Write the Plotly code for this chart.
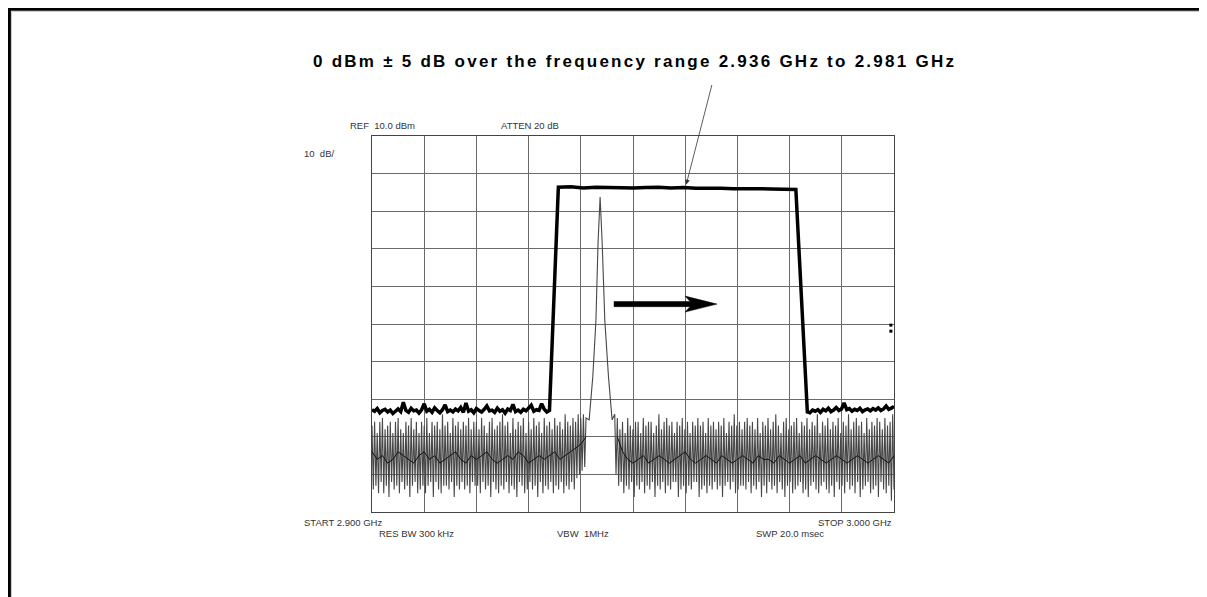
import numpy as np
import plotly.graph_objects as go

# ---------------- data (GHz, dBm) ----------------
# thick trace: swept 2.936-2.981 GHz band, noise floor outside
thick_left_v = [-62.8,-63.2,-62.5,-63.6,-63.0,-62.7,-63.4,-62.9,-63.8,-63.1,
                -62.6,-63.3,-60.8,-63.0,-63.5,-62.4,-63.1,-62.9,-63.7,-62.8,
                -61.2,-63.2,-62.7,-63.5,-62.3,-63.0,-63.6,-62.8,-61.5,-63.3,
                -62.9,-63.4,-62.6,-63.1,-62.2,-63.5,-61.0,-63.2,-62.8,-63.6,
                -62.5,-63.0,-63.4,-62.7,-61.8,-63.1,-62.9,-63.5,-62.4,-63.2,
                -62.8,-63.7,-62.6,-63.0,-61.4,-63.3,-62.9,-63.5,-62.7,-63.1,
                -62.4,-61.6,-63.2,-62.8,-63.0,-61.2,-62.7,-63.4,-63.0]
thick_top_v = [-3.6,-3.5,-3.8,-3.6,-3.7,-3.6,-3.8,-3.7,-3.6,-3.8,
               -3.7,-3.9,-3.8,-3.9,-4.0,-3.9,-4.0,-4.1,-4.1,-4.2]
thick_right_v = [-63.4,-63.6,-62.9,-63.2,-62.8,-63.5,-62.7,-63.1,-62.4,-63.3,
                 -62.9,-62.2,-63.0,-62.6,-61.0,-62.8,-62.5,-63.2,-62.7,-63.0,
                 -62.4,-63.3,-62.8,-62.6,-63.1,-62.5,-62.9,-62.3,-63.0,-62.6,
                 -61.8,-62.7,-62.4,-61.9]
thick_left_span = (2.900, 2.9340)
thick_top_span = (2.9357, 2.9812)
thick_right_span = (2.9834, 3.000)

# thin gray trace: CW signal at 2.9437 GHz over noise
gray_left_v = [
    -67,-84,-66,-83,-69,-85,-66,-82,-65,-85,-68,-83,-67,-86,-66,-82,-69,-84,-66,-83,
    -65,-85,-68,-82,-69,-84,-66,-83,-67,-86,-65,-83,-68,-82,-66,-85,-69,-84,-66,-83,
    -67,-85,-65,-83,-69,-82,-66,-86,-67,-82,-66,-84,-68,-85,-64,-83,-67,-83,-66,-84,
    -69,-82,-65,-86,-67,-83,-66,-84,-68,-82,-66,-84,-67,-83,-65,-85,-68,-82,-66,-83,
    -66,-83,-68,-85,-65,-82,-67,-84,-69,-83,-66,-86,-65,-82,-68,-84,-67,-85,-66,-83,
    -64,-84,-67,-82,-66,-85,-69,-83,-65,-84,-68,-86,-66,-82,-67,-83,-65,-85,-69,-84,
    -66,-82,-68,-84,-65,-83,-67,-86,-66,-82,-69,-85,-65,-83,-67,-84,-66,-82,-68,-85,
    -65,-83,-67,-84,-66,-82,-68,-85,-64,-83,-66,-84,-67,-82,-65,-84,-66,-81,-64,-80,
    -65,-79,-64,-78,-65]
peak_f = [2.9416, 2.9423, 2.9429, 2.9433, 2.9437, 2.9441, 2.9446, 2.9453, 2.9460]
peak_v = [-65.5, -54.0, -39.0, -18.5, -6.2, -18.5, -39.0, -54.0, -65.5]
gray_right_v = [
    -64,-80,-65,-83,-68,-82,-66,-85,-69,-83,-65,-84,-67,-82,-68,-86,-66,-83,-66,-84,
    -69,-82,-65,-85,-67,-83,-66,-84,-66,-82,-69,-86,-67,-83,-64,-84,-68,-82,-66,-85,
    -65,-83,-67,-84,-66,-82,-69,-82,-66,-86,-67,-84,-65,-83,-68,-85,-66,-83,-69,-84,
    -66,-82,-67,-82,-65,-86,-67,-84,-66,-83,-69,-85,-65,-83,-67,-84,-66,-82,-68,-84,
    -66,-83,-67,-86,-65,-83,-69,-82,-66,-84,-67,-82,-64,-85,-67,-84,-66,-83,-68,-83,
    -66,-84,-65,-82,-67,-85,-66,-83,-68,-84,-65,-82,-69,-86,-66,-83,-67,-85,-65,-82,
    -68,-84,-66,-83,-64,-85,-67,-82,-69,-84,-66,-86,-65,-83,-68,-82,-67,-85,-66,-84,
    -65,-83,-69,-82,-66,-85,-67,-84,-65,-86,-68,-83,-66,-82,-67,-84,-64,-85,-69,-83,
    -66,-82,-67,-84,-65,-85,-68,-83,-66,-86,-67,-82,-65,-84,-69,-83,-66,-85,-67,-82,
    -64,-84,-68,-83,-66,-85,-65,-82,-67,-86,-66,-84,-69,-83,-65,-82,-68,-85,-66,-84,
    -67,-83,-65,-86,-66,-82,-68,-84,-65,-85,-67,-83,-66,-87,-64,-84]
gray_left_span = (2.900, 2.941)
gray_right_span = (2.9465, 3.000)

# dark mid line inside the noise band
mid_left_v = [-74,-76,-75,-77,-76,-74,-75,-76,-77,-75,
              -74,-76,-75,-77,-76,-75,-74,-76,-77,-75,
              -76,-75,-74,-76,-77,-76,-75,-76,-74,-75,
              -77,-76,-75,-76,-75,-74,-76,-75,-74,-73,-72,-70]
mid_right_v = [-70,-74,-76,-77,-76,-75,-77,-76,-75,-76,-77,-76,-75,-74,-76,-77,-76,-75,-76,-77,
               -75,-76,-77,-76,-75,-76,-77,-75,-76,-76,-77,-75,-76,-77,-76,-75,-77,-76,-75,-76,
               -77,-76,-75,-76,-77,-76,-75,-76,-77,-76,-75,-76,-77,-75]
mid_left_span = (2.900, 2.941)
mid_right_span = (2.947, 3.000)

start_ghz, stop_ghz = 2.900, 3.000
ref_dbm, bottom_dbm = 10, -90

# ---------------- build traces ----------------
def sweep(span, vals):
    return list(np.linspace(span[0], span[1], len(vals)))

thick_f = sweep(thick_left_span, thick_left_v) + sweep(thick_top_span, thick_top_v) + sweep(thick_right_span, thick_right_v)
thick_v = thick_left_v + thick_top_v + thick_right_v

gray_f = sweep(gray_left_span, gray_left_v) + peak_f + sweep(gray_right_span, gray_right_v)
gray_v = gray_left_v + peak_v + gray_right_v

fig = go.Figure()
fig.add_trace(go.Scatter(x=gray_f, y=gray_v, mode="lines",
                         line=dict(color="#474747", width=1.1), hoverinfo="skip"))
fig.add_trace(go.Scatter(x=sweep(mid_left_span, mid_left_v), y=mid_left_v, mode="lines",
                         line=dict(color="#111111", width=1), hoverinfo="skip"))
fig.add_trace(go.Scatter(x=sweep(mid_right_span, mid_right_v), y=mid_right_v, mode="lines",
                         line=dict(color="#111111", width=1), hoverinfo="skip"))
fig.add_trace(go.Scatter(x=thick_f, y=thick_v, mode="lines",
                         line=dict(color="#000000", width=3.5), hoverinfo="skip"))
fig.add_trace(go.Scatter(x=[2.9994, 2.9994], y=[-40.3, -41.9], mode="markers",
                         marker=dict(symbol="square", size=3, color="#000"), hoverinfo="skip"))

# page offset: the browser body has an 8px margin
OFF = 8
W, H = 1207 - OFF, 597 - OFF
GX0, GX1, GY0, GY1 = 372, 894, 136, 512      # grid box in screen pixels
L, T = GX0 - OFF, GY0 - OFF
R, B = W - (GX1 - OFF), H - (GY1 - OFF)
pw, ph = GX1 - GX0, GY1 - GY0

def px(x):
    return (x - GX0) / pw

def py(y):
    return (GY1 - y) / ph

small = dict(family="Liberation Sans, Arial, sans-serif", size=9.5, color="#333")
title_txt = '<span style="letter-spacing:2.25px">0 dBm \u00b1 5 dB over the frequency range 2.936 GHz to 2.981 GHz</span>'
annots = [
    dict(text=title_txt,
         xref="paper", yref="paper", x=px(634), y=py(62), xanchor="center", yanchor="middle",
         showarrow=False, font=dict(family="Liberation Sans, Arial, sans-serif", size=17, color="#000", weight="bold")),
    dict(text="REF  10.0 dBm", xref="paper", yref="paper", x=px(348), y=py(126),
         xanchor="left", yanchor="middle", showarrow=False, font=small),
    dict(text="ATTEN 20 dB", xref="paper", yref="paper", x=px(499), y=py(126),
         xanchor="left", yanchor="middle", showarrow=False, font=small),
    dict(text="10  dB/", xref="paper", yref="paper", x=px(302), y=py(153),
         xanchor="left", yanchor="middle", showarrow=False, font=small),
    dict(text="START 2.900 GHz", xref="paper", yref="paper", x=px(302), y=py(522),
         xanchor="left", yanchor="middle", showarrow=False, font=small),
    dict(text="RES BW 300 kHz", xref="paper", yref="paper", x=px(377), y=py(533),
         xanchor="left", yanchor="middle", showarrow=False, font=small),
    dict(text="VBW  1MHz", xref="paper", yref="paper", x=px(555), y=py(533),
         xanchor="left", yanchor="middle", showarrow=False, font=small),
    dict(text="STOP 3.000 GHz", xref="paper", yref="paper", x=px(894), y=py(522),
         xanchor="right", yanchor="middle", showarrow=False, font=small),
    dict(text="SWP 20.0 msec", xref="paper", yref="paper", x=px(754), y=py(533),
         xanchor="left", yanchor="middle", showarrow=False, font=small),
    # pointer from caption to the flat top of the band
    dict(text="", x=2.9602, y=-2.9, xref="x", yref="y", ax=26, ay=-101,
         showarrow=True, arrowhead=2, arrowsize=1.2, arrowwidth=0.8, arrowcolor="#333"),
]

# sweep-direction arrow (drawn in pixels around its tip)
arrow_tip = (2.9661, -34.7)
shapes = [
    dict(type="path", xref="x", yref="y", xsizemode="pixel", ysizemode="pixel",
         xanchor=arrow_tip[0], yanchor=arrow_tip[1],
         path="M0,0 L-32,8 L-27,2.6 L-103,2.6 L-103,-2.6 L-27,-2.6 L-32,-8 Z",
         fillcolor="#000", line=dict(color="#000", width=0.5)),
    # page frame
    dict(type="line", xref="paper", yref="paper", x0=px(8), x1=px(1207), y0=py(9.2), y1=py(9.2),
         line=dict(color="#000", width=3.2)),
    dict(type="line", xref="paper", yref="paper", x0=px(9.3), x1=px(9.3), y0=py(8), y1=py(597),
         line=dict(color="#000", width=3.2)),
    dict(type="line", xref="paper", yref="paper", x0=px(11.5), x1=px(1207), y0=py(11.5), y1=py(11.5),
         line=dict(color="#cccccc", width=1)),
    dict(type="line", xref="paper", yref="paper", x0=px(11.5), x1=px(11.5), y0=py(11.5), y1=py(597),
         line=dict(color="#cccccc", width=1)),
]

fig.update_layout(
    width=W, height=H, autosize=False,
    margin=dict(l=L, r=R, t=T, b=B),
    paper_bgcolor="white", plot_bgcolor="white",
    showlegend=False, hovermode=False,
    annotations=annots, shapes=shapes,
    xaxis=dict(range=[start_ghz, stop_ghz], dtick=0.01, tick0=start_ghz, showgrid=True,
               gridcolor="#6a6a6a", gridwidth=1, showticklabels=False, ticks="",
               zeroline=False, showline=True, linecolor="#444", linewidth=1, mirror=True,
               fixedrange=True),
    yaxis=dict(range=[bottom_dbm, ref_dbm], dtick=10, tick0=bottom_dbm, showgrid=True,
               gridcolor="#6a6a6a", gridwidth=1, showticklabels=False, ticks="",
               zeroline=False, showline=True, linecolor="#444", linewidth=1, mirror=True,
               fixedrange=True),
)

fig.write_html("out.html", config={"displayModeBar": False})
